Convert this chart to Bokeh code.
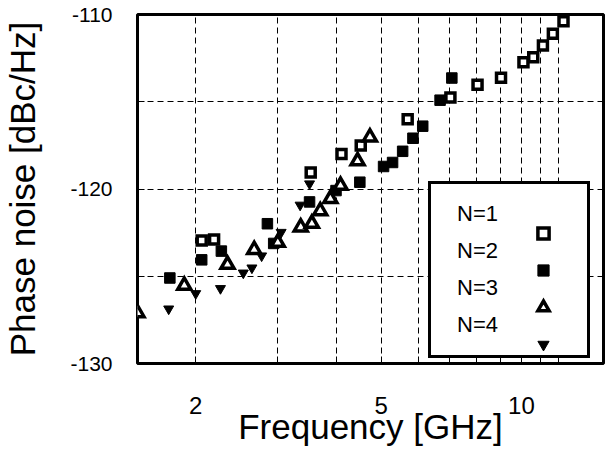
from bokeh.plotting import figure
from bokeh.models import Range1d, FixedTicker, Legend, LegendItem, PrintfTickFormatter
from bokeh.embed import file_html
from bokeh.resources import INLINE

# ---- data ----
n1_freq = [2.06, 2.19, 3.53, 4.11, 4.52, 5.70, 7.04, 8.05, 9.04, 10.1, 10.6, 11.12, 11.68, 12.31]
n1_pn = [-122.95, -122.9, -119.05, -118.0, -117.5, -116.0, -114.76, -114.03, -113.63, -112.73, -112.45, -111.78, -111.1, -110.38]

n2_freq = [1.76, 2.06, 2.27, 2.85, 2.94, 3.51, 4.0, 4.5, 5.06, 5.29, 5.56, 5.85, 6.14, 6.69, 7.09]
n2_pn = [-125.1, -124.06, -123.56, -121.99, -123.12, -120.74, -120.09, -119.61, -118.71, -118.48, -117.84, -117.09, -116.4, -114.91, -113.64]

n3_freq = [1.50, 1.89, 2.34, 2.67, 3.0, 3.36, 3.55, 3.70, 3.89, 4.09, 4.45, 4.73]
n3_pn = [-127.1, -125.53, -124.33, -123.48, -123.07, -122.19, -121.98, -121.26, -120.56, -119.8, -118.4, -117.03]

n4_freq = [1.75, 2.0, 2.26, 2.53, 2.64, 2.77, 3.05, 3.35, 3.51]
n4_pn = [-126.87, -125.99, -125.7, -124.81, -124.52, -123.83, -122.48, -120.92, -119.7]

series_labels = ["N=1", "N=2", "N=3", "N=4"]
x_major = [2, 5, 10]
x_minor = [3, 4, 6, 7, 8, 9, 11, 12]
y_major = [-130, -120, -110]
y_minor = [-125, -115]

FONT = "Liberation Sans"

p = figure(width=608, height=455, x_axis_type="log",
           x_range=Range1d(1.5, 15), y_range=Range1d(-130, -110),
           output_backend="svg", toolbar_location=None,
           min_border_left=137, min_border_right=5, min_border_top=14, min_border_bottom=92)

p.outline_line_color = "black"
p.outline_line_width = 3
p.background_fill_color = "white"
p.border_fill_color = "white"

p.xaxis.ticker = FixedTicker(ticks=x_major, minor_ticks=x_minor)
p.yaxis.ticker = FixedTicker(ticks=y_major, minor_ticks=y_minor)
p.yaxis.formatter = PrintfTickFormatter(format="%d")

for ax in (p.xaxis[0], p.yaxis[0]):
    ax.axis_line_color = None
    ax.major_tick_in = 7
    ax.major_tick_out = 0
    ax.minor_tick_in = 7
    ax.minor_tick_out = 0
    ax.major_tick_line_color = "black"
    ax.minor_tick_line_color = "black"
    ax.major_tick_line_width = 1
    ax.minor_tick_line_width = 1
    ax.major_label_text_font = FONT
    ax.major_label_text_color = "black"
    ax.axis_label_text_font = FONT
    ax.axis_label_text_font_style = "normal"
    ax.axis_label_text_color = "black"
    ax.axis_label_text_font_size = "35px"

p.xaxis.axis_label = "Frequency [GHz]"
p.yaxis.axis_label = "Phase noise [dBc/Hz]"
p.xaxis.major_label_text_font_size = "24px"
p.yaxis.major_label_text_font_size = "21px"
p.xaxis.major_label_standoff = 33
p.yaxis.major_label_standoff = 25
p.xaxis.axis_label_standoff = -10
p.yaxis.axis_label_standoff = 25

for g in (p.xgrid[0], p.ygrid[0]):
    g.grid_line_color = "black"
    g.grid_line_width = 1
    g.grid_line_dash = "6 4"
    g.minor_grid_line_color = "black"
    g.minor_grid_line_width = 1
    g.minor_grid_line_dash = "6 4"

r1 = p.scatter(n1_freq, n1_pn, marker="square", size=9, line_width=3.5,
               line_color="black", fill_color="white", line_join="miter")
r2 = p.scatter(n2_freq, n2_pn, marker="square", size=10.5, line_width=1,
               line_color="black", fill_color="black")
r3 = p.scatter(n3_freq, n3_pn, marker="triangle", size=13, line_width=3.5,
               line_color="black", fill_color="white", line_join="miter")
r4 = p.scatter(n4_freq, n4_pn, marker="inverted_triangle", size=10, line_width=1,
               line_color="black", fill_color="black")

# legend: box with labels (invisible glyphs), then glyph column on the right
dummies = [p.scatter([], [], marker="square", alpha=0) for _ in series_labels]
legA = Legend(items=[LegendItem(label=lab, renderers=[d]) for lab, d in zip(series_labels, dummies)],
              location=(291, 5), orientation="vertical", padding=16, spacing=9,
              glyph_width=2, glyph_height=28, label_height=28, label_width=114,
              label_standoff=8, margin=0,
              border_line_color="black", border_line_width=3, border_line_alpha=1,
              background_fill_color="white", background_fill_alpha=1,
              label_text_font=FONT, label_text_font_size="22px", label_text_color="black")
legB = Legend(items=[LegendItem(label=" ", renderers=[r]) for r in (r1, r2, r3, r4)],
              location=(392, 5), orientation="vertical", padding=16, spacing=9,
              glyph_width=28, glyph_height=28, label_height=28, label_width=0,
              label_standoff=0, margin=0,
              border_line_color=None, background_fill_alpha=0,
              label_text_font=FONT, label_text_font_size="22px")
p.add_layout(legA)
p.add_layout(legB)

open("out.html", "w").write(file_html(p, INLINE))
